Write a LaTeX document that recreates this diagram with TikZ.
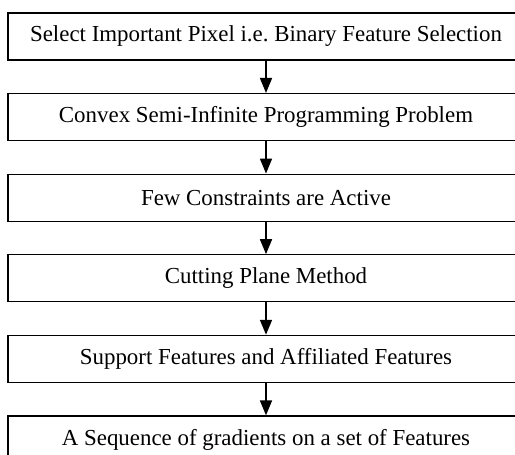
\documentclass[tikz,border=0pt]{standalone}
\usepackage{fontspec}
\setmainfont{Liberation Serif}
\usetikzlibrary{arrows.meta}
\frenchspacing
\tikzset{
  stepbox/.style={draw, line width=1.3pt, rectangle, minimum width=516pt,
    minimum height=47pt, inner sep=0pt, font=\fontsize{22.9}{26}\selectfont},
  flow/.style={line width=1.7pt, -{Triangle[width=12pt,length=15pt]}}
}
\begin{document}
\begin{tikzpicture}[x=1pt,y=1pt]
  \useasboundingbox (0,0) rectangle (515,-455);
  \clip (0,0) rectangle (515,-455);
  \node[stepbox] (s1) at (266,-36.5) {Select Important Pixel i.e.\ Binary Feature Selection};
  \node[stepbox] (s2) at (266,-117.1) {Convex Semi-Infinite Programming Problem};
  \node[stepbox] (s3) at (266,-197.7) {Few Constraints are Active};
  \node[stepbox] (s4) at (266,-278.3) {Cutting Plane Method};
  \node[stepbox] (s5) at (266,-358.9) {Support Features and Affiliated Features};
  \node[stepbox] (s6) at (266,-439.5) {A Sequence of gradients on a set of Features};
  \foreach \a/\b in {s1/s2,s2/s3,s3/s4,s4/s5,s5/s6}
    \draw[flow] (\a.south) -- (\b.north);
\end{tikzpicture}
\end{document}
